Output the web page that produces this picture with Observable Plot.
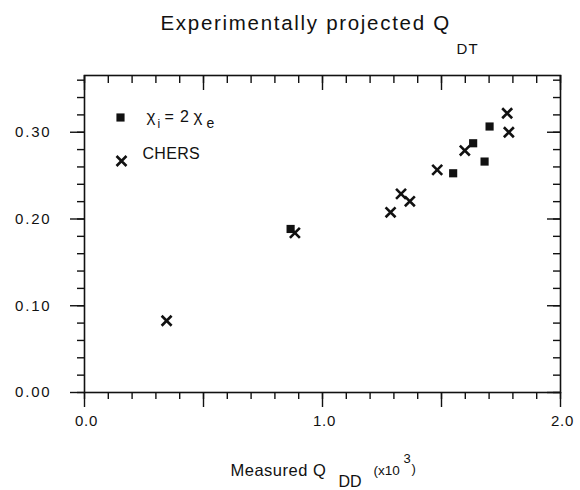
<!DOCTYPE html>
<html>
<head>
<meta charset="utf-8">
<script src="https://cdn.jsdelivr.net/npm/d3@7"></script>
<script src="https://cdn.jsdelivr.net/npm/@observablehq/plot@0.6"></script>
<style>
  html, body { margin: 0; padding: 0; background: #fff; }
  #chart svg { display: block; }
</style>
</head>
<body>
<div id="chart"></div>
<script>
// ---- data ----
const squareQDD = [0.866, 1.549, 1.633, 1.681, 1.702];
const squareQDT = [0.1885, 0.2527, 0.2873, 0.2662, 0.3066];
const chersQDD = [0.345, 0.884, 1.286, 1.330, 1.367, 1.482, 1.598, 1.776, 1.783];
const chersQDT = [0.0827, 0.184, 0.2077, 0.229, 0.2204, 0.2566, 0.2789, 0.3219, 0.300];

const xMinorTicks = d3.range(0, 21).map(i => i / 10);
const xMajorTicks = [0, 0.5, 1.0, 1.5, 2.0];
const xTickLabels = [0, 1.0, 2.0];
const yMinorTicks = d3.range(0, 19).map(i => i / 50);
const yMajorTicks = [0, 0.1, 0.2, 0.3];
const yTickLabels = [0, 0.1, 0.2, 0.3];

const titleMain = "Experimentally projected Q";
const titleSub = "DT";
const xLabelMain = "Measured Q";
const xLabelSub = "DD";
const xLabelUnit = "(x10";
const xLabelExp = "3";
const xLabelClose = ")";
const legendChi = "χ";
const legendI = "i";
const legendEq = "= 2";
const legendE = "e";
const legendChers = "CHERS";

const squares = squareQDD.map((x, i) => ({x, y: squareQDT[i]}));
const chers = chersQDD.map((x, i) => ({x, y: chersQDT[i]}));

// ---- layout ----
const W = 580, H = 490;
const mL = 84, mR = 20, mT = 75, mB = 98;
const innerH = H - mT - mB;
const innerW = W - mL - mR;
const FONT = "Liberation Sans, Arial, Helvetica, sans-serif";

// text placed relative to the frame's top-left corner, given in page pixels
function label(str, px, py, size, extra = {}) {
  return Plot.text([str], {
    text: d => d,
    frameAnchor: "top-left",
    dx: px - mL,
    dy: py - mT,
    textAnchor: "start",
    lineAnchor: "bottom",
    fontSize: size,
    fill: "#111",
    ...extra
  });
}

const tickStyle = {stroke: "#111", strokeWidth: 1.4};
const fmtY = d3.format(".2f");
const fmtX = d3.format(".1f");

const chart = Plot.plot({
  width: W,
  height: H,
  marginLeft: mL,
  marginRight: mR,
  marginTop: mT,
  marginBottom: mB,
  style: {fontFamily: FONT, background: "#fff", overflow: "visible"},
  x: {domain: [0, 2], axis: null},
  y: {domain: [0, 0.3654], axis: null},
  marks: [
    Plot.frame({stroke: "#111", strokeWidth: 1.6}),
    // bottom ticks (outward)
    Plot.tickX(xMinorTicks, {x: d => d, insetTop: innerH, insetBottom: -7, ...tickStyle}),
    Plot.tickX(xMajorTicks, {x: d => d, insetTop: innerH, insetBottom: -15, ...tickStyle}),
    // top ticks (inward)
    Plot.tickX(xMinorTicks, {x: d => d, insetTop: 0, insetBottom: innerH - 8, ...tickStyle}),
    Plot.tickX(xMajorTicks, {x: d => d, insetTop: 0, insetBottom: innerH - 15, ...tickStyle}),
    // left ticks (outward)
    Plot.tickY(yMinorTicks, {y: d => d, insetRight: innerW, insetLeft: -7, ...tickStyle}),
    Plot.tickY(yMajorTicks, {y: d => d, insetRight: innerW, insetLeft: -14, ...tickStyle}),
    // right ticks (inward)
    Plot.tickY(yMinorTicks, {y: d => d, insetLeft: innerW - 7, insetRight: 0, ...tickStyle}),
    Plot.tickY(yMajorTicks, {y: d => d, insetLeft: innerW - 13, insetRight: 0, ...tickStyle}),
    // tick labels
    Plot.text(yTickLabels, {
      y: d => d, text: d => fmtY(d), frameAnchor: "left",
      dx: -33, textAnchor: "end", lineAnchor: "middle", fontSize: 15, fill: "#111"
    }),
    Plot.text(xTickLabels, {
      x: d => d, text: d => fmtX(d), frameAnchor: "bottom",
      dy: 29, dx: 2, textAnchor: "middle", lineAnchor: "middle", fontSize: 15, fill: "#111"
    }),
    // data
    Plot.dot(squares, {x: "x", y: "y", symbol: "square", r: 4.6, fill: "#111", stroke: "none"}),
    Plot.dot(chers, {x: "x", y: "y", symbol: "times", r: 4.6, stroke: "#111", strokeWidth: 2.6}),
    // legend
    Plot.dot([0], {frameAnchor: "top-left", dx: 120 - mL, dy: 117 - mT, symbol: "square", r: 4.6, fill: "#111", stroke: "none"}),
    Plot.dot([0], {frameAnchor: "top-left", dx: 121 - mL, dy: 160.5 - mT, symbol: "times", r: 4.6, stroke: "#111", strokeWidth: 2.6}),
    label(legendChi, 146, 121, 17),
    label(legendI, 157, 127.5, 12),
    label(legendEq, 164, 121, 16),
    label(legendChi, 193, 121, 17),
    label(legendE, 206, 127.5, 14),
    label(legendChers, 142, 158, 16),
    // title
    label(titleMain, 160, 29, 20.5),
    label(titleSub, 456, 53, 15),
    // x axis label
    label(xLabelMain, 230, 475.5, 16.5),
    label(xLabelSub, 338, 486, 16),
    label(xLabelUnit, 373, 474, 13.5),
    label(xLabelExp, 403, 462, 13),
    label(xLabelClose, 411, 472, 13)
  ]
});

// letter spacing to mimic the wide typeface of the scanned original
const spacing = new Map([
  [titleMain, 1.7], [titleSub, 1.2], [xLabelMain, 0.5], [legendChers, 0.3],
  [legendEq, 0.8]
]);
yTickLabels.forEach(v => spacing.set(fmtY(v), 1.8));
xTickLabels.forEach(v => spacing.set(fmtX(v), 0.8));
d3.select(chart).selectAll("text").each(function () {
  const s = spacing.get(this.textContent);
  if (s != null) this.setAttribute("letter-spacing", s);
});

document.getElementById("chart").appendChild(chart);
</script>
</body>
</html>
